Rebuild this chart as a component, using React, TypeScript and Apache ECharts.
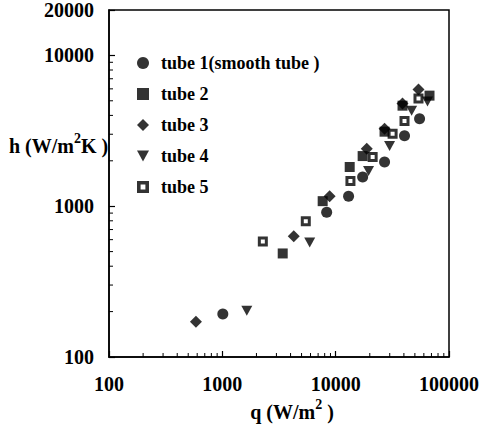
import React, { useEffect, useRef } from "react";
import * as echarts from "echarts";

// ---- data ----
const legendNames = ["tube 1(smooth tube )", "tube 2", "tube 3", "tube 4", "tube 5"];

const tube1Q = [1010, 8330, 13000, 17300, 27000, 40500, 55000];
const tube1H = [193, 912, 1166, 1560, 1965, 2930, 3800];

const tube2Q = [3410, 7680, 13300, 17300, 27000, 38900, 67300];
const tube2H = [486, 1080, 1820, 2150, 3120, 4640, 5410];

const tube3Q = [585, 4266, 8850, 18800, 27000, 38900, 53800];
const tube3H = [171, 631, 1166, 2400, 3260, 4790, 5930];

const tube4Q = [1644, 5900, 19500, 29900, 46800, 64600];
const tube4H = [203, 575, 1710, 2510, 4300, 4940];

const tube5Q = [2277, 5450, 13500, 21200, 31800, 40500, 53800];
const tube5H = [584, 794, 1468, 2120, 3020, 3670, 5170];

const xMin = 100;
const xMax = 100000;
const yMin = 100;
const yMax = 20000;

const xMinorTicks = [200, 300, 400, 500, 600, 700, 800, 900, 2000, 3000, 4000, 5000, 6000, 7000, 8000, 9000, 20000, 30000, 40000, 50000, 60000, 70000, 80000, 90000];
const yMinorTicks = [200, 300, 400, 500, 600, 700, 800, 900, 2000, 3000, 4000, 5000, 6000, 7000, 8000, 9000];

const FONT = "Liberation Serif";
const INK = "#000";
const triDown = "path://M0,0L10,0L5,9Z";
const openSquareIcon = "path://M0,0H10V10H0Z M3,3V7H7V3Z";

export default function App() {
  const ref = useRef<HTMLDivElement>(null);

  useEffect(() => {
    document.body.style.margin = "0";
    const chart = echarts.init(ref.current!, null, { renderer: "svg" });
    const zip = (q: number[], h: number[]) => q.map((v, i) => [v, h[i]]);

    const xMinorRender = (_p: any, api: any) => {
      const pt = api.coord([api.value(0), api.value(1)]);
      return {
        type: "line",
        shape: { x1: pt[0], y1: pt[1], x2: pt[0], y2: pt[1] - 4 },
        style: { stroke: INK, lineWidth: 1 },
      };
    };
    const yMinorRender = (_p: any, api: any) => {
      const pt = api.coord([api.value(0), api.value(1)]);
      return {
        type: "line",
        shape: { x1: pt[0], y1: pt[1], x2: pt[0] + 4, y2: pt[1] },
        style: { stroke: INK, lineWidth: 1 },
      };
    };

    const textBase = { fontFamily: FONT, color: INK, fontWeight: "bold" as const };

    chart.setOption({
      animation: false,
      backgroundColor: "#fff",
      grid: {
        left: 109,
        right: 37,
        top: 10,
        bottom: 70,
        show: true,
        borderColor: INK,
        borderWidth: 1.5,
        containLabel: false,
      },
      xAxis: {
        type: "log",
        logBase: 10,
        min: xMin,
        max: xMax,
        axisLine: { show: true, lineStyle: { color: INK, width: 1.5 } },
        axisTick: { show: true, inside: true, length: 6, lineStyle: { color: INK, width: 1.2 } },
        splitLine: { show: false },
        minorTick: { show: false },
        axisLabel: {
          ...textBase,
          fontSize: 20,
          margin: 17,
          formatter: (v: number) => String(Math.round(v)),
        },
      },
      yAxis: {
        type: "log",
        logBase: 10,
        min: yMin,
        max: yMax,
        axisLine: { show: true, lineStyle: { color: INK, width: 1.5 } },
        axisTick: { show: true, inside: true, length: 6, lineStyle: { color: INK, width: 1.2 } },
        splitLine: { show: false },
        axisLabel: {
          ...textBase,
          fontSize: 20,
          margin: 15,
          formatter: (v: number) => String(Math.round(v)),
        },
      },
      legend: {
        data: [
          { name: legendNames[0] },
          { name: legendNames[1] },
          { name: legendNames[2] },
          { name: legendNames[3] },
          {
            name: legendNames[4],
            icon: openSquareIcon,
            itemStyle: { color: INK, borderWidth: 0 },
          },
        ],
        orient: "vertical",
        left: 132,
        top: 49,
        itemWidth: 12,
        itemHeight: 12,
        itemGap: 13,
        textStyle: { ...textBase, fontSize: 18, padding: [0, 0, 0, 7] },
      },
      graphic: [
        {
          type: "text",
          x: 292,
          y: 412,
          style: {
            text: "{a|q (W/m}{s|2}{a| )}",
            align: "center",
            verticalAlign: "middle",
            rich: {
              a: { ...textBase, fontSize: 20 },
              s: { ...textBase, fontSize: 14, padding: [0, 0, 16, 0] },
            },
          },
        },
        {
          type: "text",
          x: 9,
          y: 146,
          style: {
            text: "{a|h (W/m}{s|2}{a|K )}",
            align: "left",
            verticalAlign: "middle",
            rich: {
              a: { ...textBase, fontSize: 20 },
              s: { ...textBase, fontSize: 14, padding: [0, 0, 16, 0] },
            },
          },
        },
      ],
      series: [
        {
          name: "xMinor",
          type: "custom",
          renderItem: xMinorRender,
          data: xMinorTicks.map((v) => [v, yMin]),
          silent: true,
          z: 1,
        },
        {
          name: "yMinor",
          type: "custom",
          renderItem: yMinorRender,
          data: yMinorTicks.map((v) => [xMin, v]),
          silent: true,
          z: 1,
        },
        {
          name: legendNames[0],
          type: "scatter",
          symbol: "circle",
          symbolSize: 11,
          itemStyle: { color: INK },
          data: zip(tube1Q, tube1H),
        },
        {
          name: legendNames[1],
          type: "scatter",
          symbol: "rect",
          symbolSize: 10,
          itemStyle: { color: INK },
          data: zip(tube2Q, tube2H),
        },
        {
          name: legendNames[2],
          type: "scatter",
          symbol: "diamond",
          symbolSize: 12,
          itemStyle: { color: INK },
          data: zip(tube3Q, tube3H),
        },
        {
          name: legendNames[3],
          type: "scatter",
          symbol: triDown,
          symbolSize: [11, 10],
          itemStyle: { color: INK },
          data: zip(tube4Q, tube4H),
        },
        {
          name: legendNames[4],
          type: "scatter",
          symbol: "rect",
          symbolSize: 7,
          itemStyle: { color: "#fff", borderColor: INK, borderWidth: 3 },
          data: zip(tube5Q, tube5H),
        },
      ],
    });

    return () => chart.dispose();
  }, []);

  return <div ref={ref} style={{ width: 486, height: 427 }} />;
}
